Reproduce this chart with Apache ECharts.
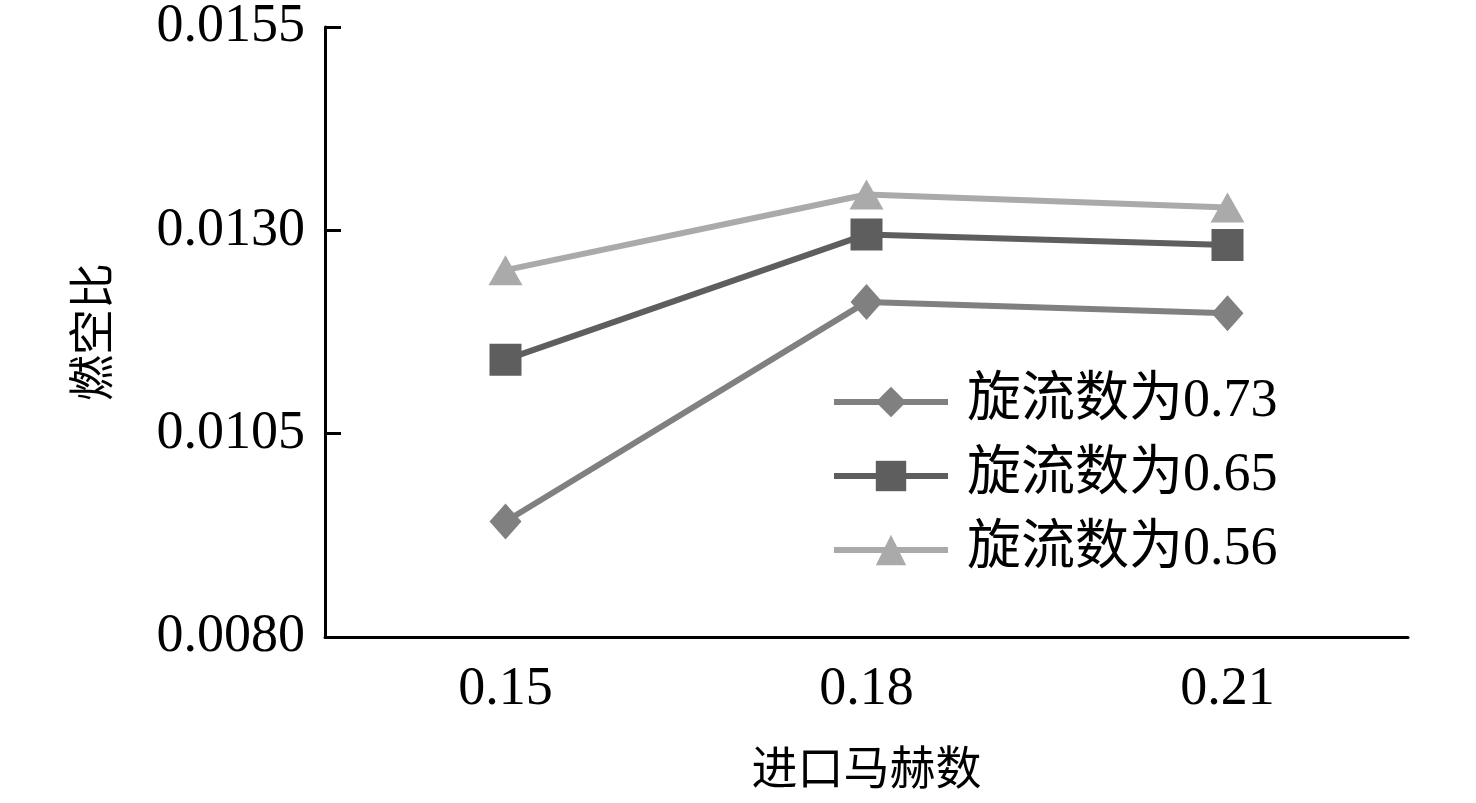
<!DOCTYPE html>
<html>
<head>
<meta charset="utf-8">
<script src="https://cdn.jsdelivr.net/npm/echarts@6/dist/echarts.min.js"></script>
<style>
  html, body { margin: 0; padding: 0; background: #fff; }
  #chart { width: 1476px; height: 803px; }
</style>
</head>
<body>
<div id="chart"></div>
<script>
var machData = ["0.15", "0.18", "0.21"];
var swirl073 = [0.00942, 0.01212, 0.01198];
var swirl065 = [0.01141, 0.01295, 0.01282];
var swirl056 = [0.01251, 0.01344, 0.01328];
var seriesNames = ["旋流数为0.73", "旋流数为0.65", "旋流数为0.56"];

var fontFam = "'Liberation Serif', 'Times New Roman', 'Noto Sans CJK SC', serif";

var chart = echarts.init(document.getElementById("chart"));
var option = {
    animation: false,
    grid: {
        left: 325,
        right: 68,
        top: 24,
        bottom: 166
    },
    legend: {
        data: seriesNames,
        orient: "vertical",
        left: 826,
        top: 370,
        itemWidth: 114,
        itemHeight: 38,
        itemGap: 20,
        lineStyle: { width: 6 },
        textStyle: {
            fontFamily: fontFam,
            fontSize: 54,
            color: "#000",
            padding: [0, 0, 0, 14]
        }
    },
    xAxis: {
        type: "category",
        data: machData,
        boundaryGap: true,
        name: "进口马赫数",
        nameLocation: "middle",
        nameGap: 112,
        nameTextStyle: { fontFamily: fontFam, fontSize: 46, color: "#000" },
        axisLine: { lineStyle: { color: "#000", width: 3 } },
        axisTick: { inside: true, alignWithLabel: true, length: 16, lineStyle: { width: 3 } },
        axisLabel: { fontFamily: fontFam, fontSize: 54, color: "#000", margin: 26 },
        splitLine: { show: false }
    },
    yAxis: {
        type: "value",
        min: 0.008,
        max: 0.0155,
        interval: 0.0025,
        name: "燃空比",
        nameLocation: "middle",
        nameGap: 206,
        nameRotate: 90,
        nameTextStyle: { fontFamily: fontFam, fontSize: 46, color: "#000" },
        axisLine: { show: true, lineStyle: { color: "#000", width: 3 } },
        axisTick: { show: true, inside: true, length: 16, lineStyle: { width: 3 } },
        axisLabel: {
            fontFamily: fontFam, fontSize: 54, color: "#000", margin: 20,
            formatter: function(v) { return v.toFixed(4); }
        },
        splitLine: { show: false }
    },
    series: [{
        name: seriesNames[0],
        type: "line",
        data: swirl073,
        symbol: "diamond",
        symbolSize: [32, 36],
        color: "#808080",
        lineStyle: { width: 6, color: "#808080" }
    }, {
        name: seriesNames[1],
        type: "line",
        data: swirl065,
        symbol: "rect",
        symbolSize: 32,
        color: "#5e5e5e",
        lineStyle: { width: 6, color: "#5e5e5e" }
    }, {
        name: seriesNames[2],
        type: "line",
        data: swirl056,
        symbol: "triangle",
        symbolSize: [34, 30],
        color: "#aaaaaa",
        lineStyle: { width: 6, color: "#aaaaaa" }
    }]
};

chart.setOption(option);
</script>
</body>
</html>
